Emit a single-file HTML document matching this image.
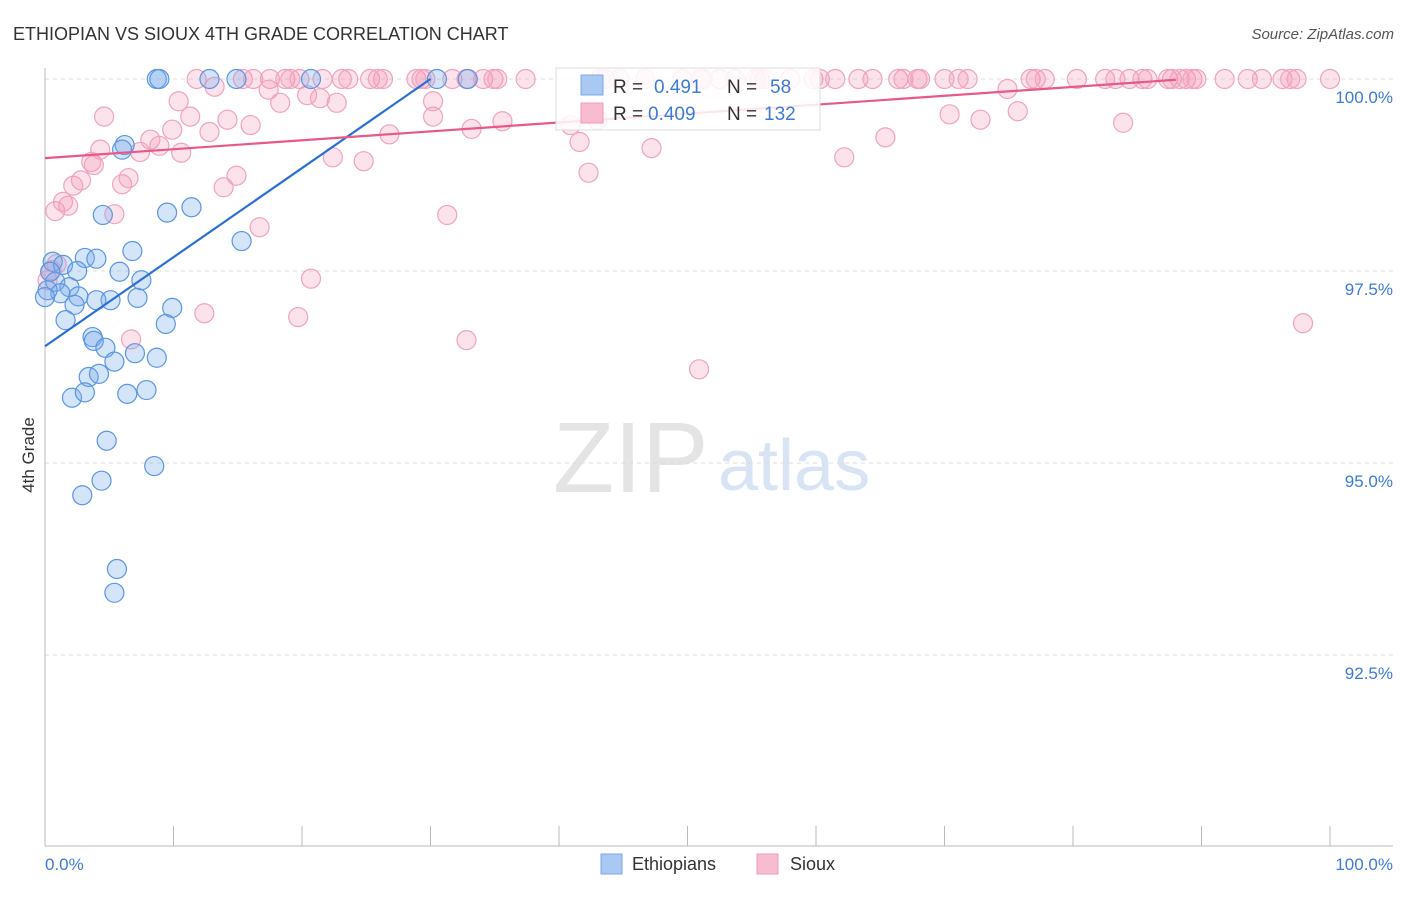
<!DOCTYPE html>
<html><head><meta charset="utf-8"><style>
body{margin:0;background:#fff;font-family:"Liberation Sans",sans-serif}
svg text{font-family:"Liberation Sans",sans-serif}
</style></head><body>
<svg id="c" width="1406" height="892" xmlns="http://www.w3.org/2000/svg">
<text x="13" y="40" font-size="18" fill="#333">ETHIOPIAN VS SIOUX 4TH GRADE CORRELATION CHART</text>
<text x="1394" y="39" font-size="15" fill="#555" font-style="italic" text-anchor="end">Source: ZipAtlas.com</text>
<text transform="translate(34,455) rotate(-90)" font-size="17" fill="#333" text-anchor="middle">4th Grade</text>
<g>
<text x="553" y="492" font-size="100" font-family="Liberation Serif" fill="#e4e4e4">ZIP</text>
<text x="718" y="490" font-size="72" fill="#d8e4f4">atlas</text>
</g>
<g id="grid"></g><g id="axes"></g><g id="pts"></g><g id="lines"></g>
<g>
<rect x="556" y="68" width="264" height="62" fill="#fff" fill-opacity="0.85" stroke="#ddd"/>
<rect x="581" y="75" width="22" height="20" fill="#a9c8f2" stroke="#7aa8e8"/>
<text x="613" y="93" font-size="19" fill="#333">R =</text><text x="654" y="93" font-size="19" fill="#3d7bd9">0.491</text>
<text x="727" y="93" font-size="19" fill="#333">N =</text><text x="770" y="93" font-size="19" fill="#3d7bd9">58</text>
<rect x="581" y="103" width="22" height="20" fill="#f7bcd0" stroke="#f09ab6"/>
<text x="613" y="120" font-size="19" fill="#333">R =</text><text x="648" y="120" font-size="19" fill="#3d7bd9">0.409</text>
<text x="727" y="120" font-size="19" fill="#333">N =</text><text x="764" y="120" font-size="19" fill="#3d7bd9">132</text>
</g>
<g>
<rect x="601" y="854" width="21" height="20" fill="#a9c8f2" stroke="#7aa8e8"/>
<text x="632" y="870" font-size="18" fill="#333">Ethiopians</text>
<rect x="757" y="854" width="21" height="20" fill="#f7bcd0" stroke="#f09ab6"/>
<text x="790" y="870" font-size="18" fill="#333">Sioux</text>
</g>
</svg>
<script>
const yTicks=[100,97.5,95,92.5];
const yTickLabels=["100.0%","97.5%","95.0%","92.5%"];
const xTicks=[0,10,20,30,40,50,60,70,80,90,100];
const blueX=[8.7,8.9,12.8,14.9,20.7,30.5,32.9,6.2,6.0,4.5,9.5,11.4,15.3,0.6,1.4,3.1,4.0,6.8,2.5,5.8,0.8,1.9,1.2,0.2,2.6,2.3,5.1,7.2,7.5,9.9,9.4,1.6,3.7,3.8,4.7,7.0,8.7,5.4,3.4,4.2,2.1,3.1,6.4,7.9,4.8,8.5,2.9,4.4,5.6,5.4,0,0.4,4.0];
const blueY=[100,100,100,100,100,100,100,99.14,99.08,98.23,98.26,98.33,97.89,97.62,97.58,97.67,97.66,97.76,97.5,97.49,97.36,97.29,97.21,97.25,97.17,97.06,97.12,97.15,97.38,97.02,96.81,96.86,96.64,96.59,96.5,96.43,96.37,96.32,96.12,96.16,95.85,95.92,95.9,95.95,95.29,94.96,94.58,94.77,93.62,93.31,97.16,97.49,97.12];
const pinkTopX=[11.8,15.4,16.2,17.5,18.7,19.1,19.8,21.6,23.1,23.6,25.3,25.9,26.3,28.9,29.3,29.6,31.7,32.8,34.1,34.9,35.2,37.4,43.6,46.7,49.6,51.2,52.5,53.7,55.3,56.0,59.8,60.3,61.5,63.3,64.4,66.4,66.8,67.9,68.1,70.0,71.1,71.8,76.7,77.1,77.8,80.3,82.5,83.3,84.4,85.4,85.8,87.4,87.7,88.3,88.8,89.3,89.6,91.8,93.6,94.7,96.3,96.9,97.4,100,43.2,44.7,51.0,55.6,58.0];
const pinkX=[4.6,10.4,11.3,13.2,17.4,18.3,20.4,21.4,22.7,12.8,14.2,16.0,9.9,8.2,8.9,10.6,7.4,4.3,3.6,3.8,2.8,2.2,0.8,1.4,1.8,5.4,6.0,6.5,13.9,14.9,16.7,22.4,24.8,26.8,30.2,33.2,35.6,30.2,31.3,20.7,19.7,12.4,6.7,32.8,40.9,41.6,42.3,47.2,50.9,62.2,65.4,70.4,72.8,74.9,75.7,83.9,97.9,0.5,0.9,0.2,43.0];
const pinkY=[99.51,99.71,99.51,99.9,99.86,99.69,99.79,99.75,99.69,99.31,99.47,99.4,99.34,99.21,99.13,99.04,99.05,99.08,98.92,98.88,98.68,98.61,98.28,98.4,98.35,98.24,98.63,98.71,98.59,98.74,98.07,98.98,98.93,99.28,99.51,99.35,99.45,99.71,98.23,97.4,96.9,96.95,96.61,96.6,99.4,99.18,98.78,99.1,96.22,98.98,99.24,99.54,99.47,99.87,99.58,99.43,96.82,97.51,97.59,97.38,99.47];
const blueLine=[[0,96.52],[30,100]];
const pinkLine=[[0,98.97],[88,99.99]];
const NS="http://www.w3.org/2000/svg";
const sx=v=>45+v*12.85, sy=v=>79+(100-v)*76.8;
function mk(t,a,p){const e=document.createElementNS(NS,t);for(const k in a)e.setAttribute(k,a[k]);document.getElementById(p).appendChild(e);return e;}
yTicks.forEach((t,i)=>{
 const g=mk('line',{x1:45,x2:1393,y1:sy(t),y2:sy(t),stroke:'#ddd','stroke-dasharray':'4,4'},'grid');
 
 
 const l=mk('text',{x:1393,y:sy(t)+24,'font-size':17,fill:'#3d7bd9','text-anchor':'end'},'axes');
 l.textContent=yTickLabels[i];
 
 
});
const ax=mk('line',{x1:45,x2:45,y1:68,y2:846,stroke:'#bbb'},'axes');


const bx=mk('line',{x1:45,x2:1393,y1:846,y2:846,stroke:'#bbb'},'axes');


xTicks.forEach(t=>{
 const k=mk('line',{x1:sx(t),x2:sx(t),y1:826,y2:846,stroke:'#bbb'},'axes');
 
 
});
const x0=mk('text',{x:45,y:870,'font-size':17,fill:'#3d7bd9'},'axes');x0.textContent='0.0%';


const x1=mk('text',{x:1393,y:870,'font-size':17,fill:'#3d7bd9','text-anchor':'end'},'axes');x1.textContent='100.0%';


function dot(x,y,c){
 const p=mk('circle',{cx:sx(x),cy:sy(y),r:9.5,fill:c==='b'?'rgba(120,170,235,0.32)':'rgba(244,150,182,0.28)',stroke:c==='b'?'#5b96e2':'#f0a3bd','stroke-width':1.2},'pts');
 
 
}
pinkTopX.forEach(x=>dot(x,100,'p'));
pinkX.forEach((x,i)=>dot(x,pinkY[i],'p'));
blueX.forEach((x,i)=>dot(x,blueY[i],'b'));
const bl=mk('line',{x1:sx(blueLine[0][0]),y1:sy(blueLine[0][1]),x2:sx(blueLine[1][0]),y2:sy(blueLine[1][1]),stroke:'#2a6fd6','stroke-width':2.2},'lines');


const pl=mk('line',{x1:sx(pinkLine[0][0]),y1:sy(pinkLine[0][1]),x2:sx(pinkLine[1][0]),y2:sy(pinkLine[1][1]),stroke:'#e8588a','stroke-width':2.2},'lines');


</script>
</body></html>
